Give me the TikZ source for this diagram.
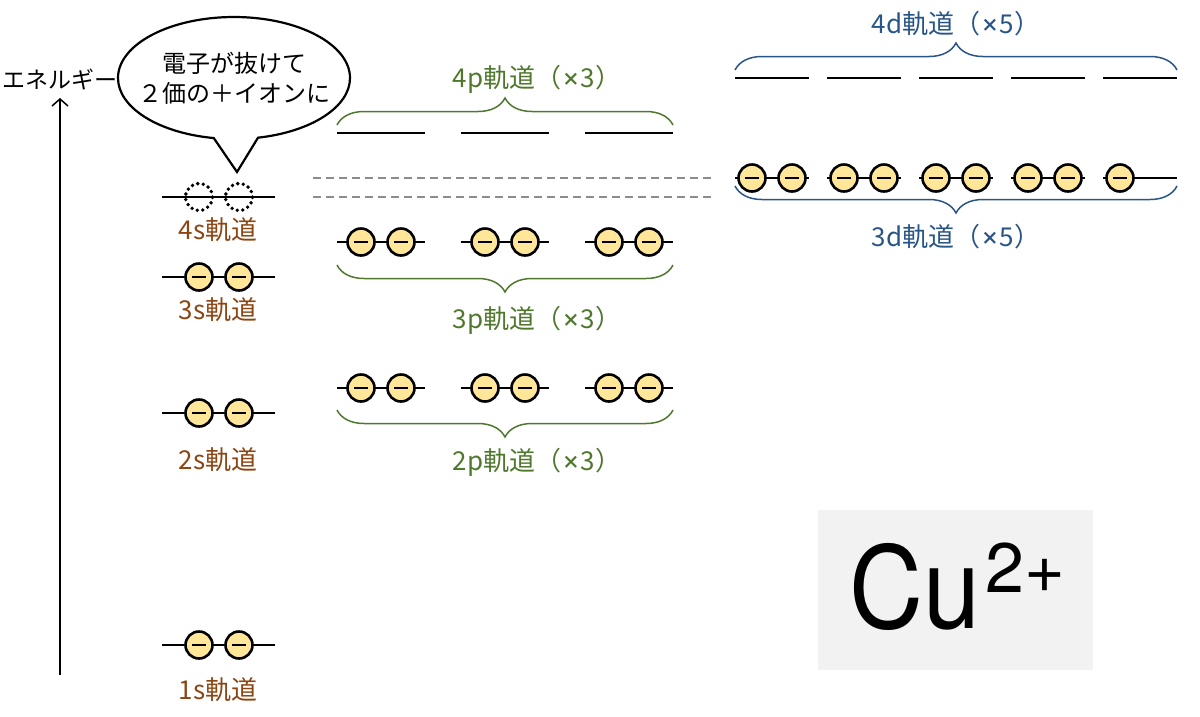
\documentclass[tikz,border=0pt]{standalone}
\usepackage{fontspec}
\setmainfont{TeX Gyre Heros}
\newfontfamily\jpfont{Noto Sans CJK JP}
\usepackage{tikz}
\usetikzlibrary{positioning,arrows.meta,decorations.pathreplacing,shapes.callouts}
\definecolor{sorb}{RGB}{140,70,20}
\definecolor{porb}{RGB}{80,120,45}
\definecolor{dorb}{RGB}{40,85,135}
\definecolor{efill}{RGB}{255,230,153}
\definecolor{cubox}{RGB}{242,242,242}
\definecolor{gapline}{RGB}{140,140,140}
\newcommand{\mult}{{\rmfamily\fontsize{33}{30}\selectfont ×}}

\begin{document}
\begin{tikzpicture}[
    x=1pt, y=-1pt,
    every node/.style={font=\jpfont\fontsize{26}{30}\selectfont},
    level/.style={draw, line width=2pt},
    elec/.style={circle, draw, line width=2.6pt, fill=efill, minimum size=27pt, inner sep=0pt,
      path picture={\draw[line width=1.8pt] ([xshift=-7pt]path picture bounding box.center) -- ([xshift=7pt]path picture bounding box.center);}},
    hole/.style={circle, draw, line width=3.8pt, dash pattern=on 0pt off 5.6pt, line cap=round, minimum size=27pt, inner sep=0pt},
    brace/.style={decorate, decoration={brace, amplitude=27pt}, line width=1.5pt},
    gap/.style={draw=gapline, line width=1.6pt, dash pattern=on 8pt off 5pt},
    slabel/.style={text=sorb},
    plabel/.style={text=porb},
    dlabel/.style={text=dorb},
    bubble/.style={ellipse callout, draw, line width=2.2pt, inner sep=0pt,
      minimum width=232pt, minimum height=122pt, callout pointer arc=22}
]
\useasboundingbox (0,0) rectangle (1200,716);

% energy axis
\coordinate (Ebot) at (60,675);
\coordinate (Etop) at (60,98);
\draw[-{Straight Barb[length=7pt,width=16pt]}, line width=1.5pt] (Ebot) -- (Etop);
\node[font=\jpfont\fontsize{23}{23}\selectfont, inner sep=0pt] (Elab) at (60,79) {エネルギー};

% s orbitals
\foreach \lv/\y in {1/645, 2/413, 3/277} {
  \coordinate (s\lv-L) at (162,\y);
  \coordinate (s\lv-R) at (275,\y);
  \draw[level] (s\lv-L) -- (s\lv-R);
  \node[elec] (s\lv-a) at (199,\y) {};
  \node[elec] (s\lv-b) at (239,\y) {};
}
\coordinate (s4-L) at (162,197);
\coordinate (s4-R) at (275,197);
\draw[level] (s4-L) -- (s4-R);
\node[hole] (s4-a) at (199,197) {};
\node[hole] (s4-b) at (239,197) {};

\node[slabel] (s1lab) at (218,690) {1s軌道};
\node[slabel] (s2lab) at (218,460) {2s軌道};
\node[slabel] (s3lab) at (218,310) {3s軌道};
\node[slabel] (s4lab) at (218,230) {4s軌道};

% speech bubble
\coordinate (tip) at (237,172);
\node[bubble, callout absolute pointer={(tip)}] (msg) at (234,78) {};
\node[align=center, font=\jpfont\fontsize{24}{30}\selectfont] (msgtext) at (msg.center) {電子が抜けて\\２価の＋イオンに};

% p orbitals
\foreach \n/\c in {a/381, b/505, c/629} {
  \coordinate (p2\n-L) at (\c-44,388);
  \coordinate (p2\n-R) at (\c+44,388);
  \draw[level] (p2\n-L) -- (p2\n-R);
  \node[elec] (p2\n-1) at (\c-20,388) {};
  \node[elec] (p2\n-2) at (\c+20,388) {};
  \coordinate (p3\n-L) at (\c-44,242);
  \coordinate (p3\n-R) at (\c+44,242);
  \draw[level] (p3\n-L) -- (p3\n-R);
  \node[elec] (p3\n-1) at (\c-20,242) {};
  \node[elec] (p3\n-2) at (\c+20,242) {};
  \coordinate (p4\n-L) at (\c-44,133);
  \coordinate (p4\n-R) at (\c+44,133);
  \draw[level] (p4\n-L) -- (p4\n-R);
}

\coordinate (b2L) at (337,410);
\coordinate (b2R) at (673,410);
\draw[brace, draw=porb] (b2R) -- (b2L);
\node[plabel] (p2lab) at (537,462) {2p軌道（\mult3）};
\coordinate (b3L) at (337,265);
\coordinate (b3R) at (673,265);
\draw[brace, draw=porb] (b3R) -- (b3L);
\node[plabel] (p3lab) at (537,320) {3p軌道（\mult3）};
\coordinate (b4L) at (337,125);
\coordinate (b4R) at (673,125);
\draw[brace, draw=porb] (b4L) -- (b4R);
\node[plabel] (p4lab) at (537,79) {4p軌道（\mult3）};

% gap between 4s and 3d
\coordinate (gA-L) at (313,178);
\coordinate (gA-R) at (712,178);
\coordinate (gB-L) at (313,197);
\coordinate (gB-R) at (712,197);
\draw[gap] (gA-L) -- (gA-R);
\draw[gap] (gB-L) -- (gB-R);

% d orbitals
\foreach \n/\c in {a/772, b/864, c/956, d/1048, e/1140} {
  \coordinate (d3\n-L) at (\c-37,178);
  \coordinate (d3\n-R) at (\c+37,178);
  \draw[level] (d3\n-L) -- (d3\n-R);
  \coordinate (d4\n-L) at (\c-37,78);
  \coordinate (d4\n-R) at (\c+37,78);
  \draw[level] (d4\n-L) -- (d4\n-R);
}
\foreach \n/\c in {a/772, b/864, c/956, d/1048} {
  \node[elec] (d3\n-1) at (\c-20,178) {};
  \node[elec] (d3\n-2) at (\c+20,178) {};
}
\node[elec] (d3e-1) at (1120,178) {};

\coordinate (bd3L) at (735,186);
\coordinate (bd3R) at (1177,186);
\draw[brace, draw=dorb] (bd3R) -- (bd3L);
\node[dlabel] (d3lab) at (956,237) {3d軌道（\mult5）};
\coordinate (bd4L) at (735,70);
\coordinate (bd4R) at (1177,70);
\draw[brace, draw=dorb] (bd4L) -- (bd4R);
\node[dlabel] (d4lab) at (956,24) {4d軌道（\mult5）};

% ion symbol
\node[fill=cubox, minimum width=275pt, minimum height=160pt, inner sep=0pt] (cubg) at (955.5,590) {};
\node[anchor=base west, inner sep=0pt, font=\normalfont\fontsize{114}{114}\selectfont] (cu) at (849,628)
  {\scalebox{0.9}[1]{Cu}\hspace{5pt}\raisebox{36pt}{\fontsize{70}{70}\selectfont 2+}};

\end{tikzpicture}
\end{document}
